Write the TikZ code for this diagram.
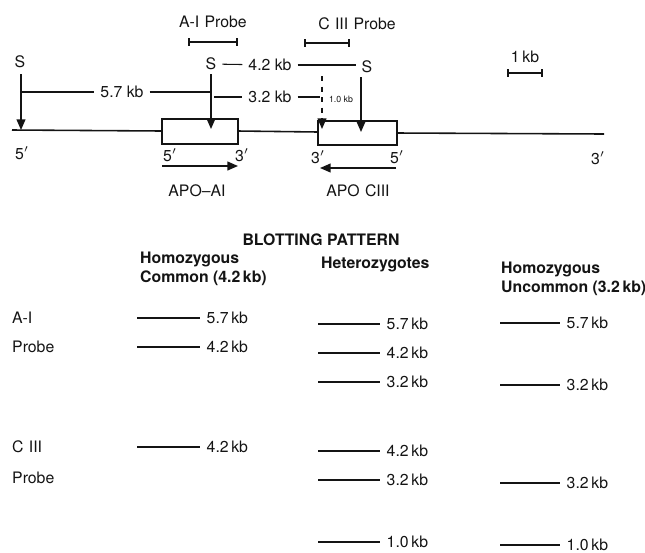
\documentclass[tikz,border=0pt]{standalone}
\usepackage{fontspec}
\setmainfont{TeX Gyre Heros}
\usetikzlibrary{arrows.meta}
\definecolor{Ink}{RGB}{20,20,20}

\begin{document}
\begin{tikzpicture}[x=0.02cm, y=-0.02cm, font=\fontsize{9}{10.5}\selectfont, Ink,
    dna/.style={line width=0.9pt},
    cut/.style={line width=0.8pt, -{Triangle[length=6pt, width=5pt]}},
    dist/.style={line width=0.6pt},
    probebar/.style={line width=1pt, {Bar[width=4pt]}-{Bar[width=4pt]}},
    band/.style={line width=1pt},
    head/.style={font=\fontsize{9}{10.5}\selectfont\bfseries, align=left, anchor=west}]
\useasboundingbox (0,0) rectangle (645,552);

% Gene map
\draw[dna] (12,130) -- (162,131);
\draw[dna] (162,119) rectangle (238,144);
\draw[dna] (238,131) -- (318,132);
\draw[dna] (318,121) rectangle (397,145);
\draw[dna] (397,133) -- (604,134);

\coordinate (c1) at (21,130);
\coordinate (c2) at (211,129);
\coordinate (c3) at (361,132);
\coordinate (c4) at (322,129);
\coordinate (d4) at (322,76);

% Sites
\node (S1) at (20,62) {S};
\node (S2) at (211,64) {S};
\node (S3) at (367,67) {S};
\draw[cut] (S1.south) ++(1,0) -- (c1);
\draw[cut] (S2) ++(0,10) -- (c2);
\draw[cut] (361,77) -- (c3);
\draw[cut, dashed] (d4) -- (c4);

% Distances
\node (k42) at (270,65) {4.2 kb};
\node (k57) at (122,92) {5.7 kb};
\node (k32) at (270,97) {3.2 kb};
\node[font=\fontsize{5}{6}\selectfont] (k10) at (341,99) {1.0 kb};
\draw[dist] (S2) -- (k42);
\draw[dist] (k42) -- (k42 -| S3.west);
\draw[dist] (21,92) -- (k57);
\draw[dist] (k57) -- (211,92);
\draw[dist] (214,97) -- (k32);
\draw[dist] (k32) -- (320,97);

% Probes and scale
\node (pA) at (213,22) {A-I\,\,Probe};
\node (pC) at (357,24) {C\,\,III\,\,Probe};
\node (kb) at (525,57) {1\,kb};
\draw[probebar] (188,42) -- (238,42);
\draw[probebar] (304,43) -- (350,43);
\draw[probebar] (507,73) -- (543,73);

% Ends and genes
\node (e1) at (22,153) {5$'$};
\node (e2) at (170,155) {5$'$};
\node (e3) at (242,155) {3$'$};
\node (e4) at (318,157) {3$'$};
\node (e5) at (397,157) {5$'$};
\node (e6) at (598,158) {3$'$};
\draw[cut] (162,166) -- (238,166);
\draw[cut] (396,168) -- (320,168);
\node (gA) at (197,191) {APO--AI};
\node (gC) at (358,191) {APO\,\,CIII};

% Blotting pattern
\node[font=\fontsize{9}{10.5}\selectfont\bfseries] (title) at (321,240) {BLOTTING PATTERN};
\node[head] (h1) at (134,269) {Homozygous\\Common (4.2\,kb)};
\node[head] (h2) at (315,264) {Heterozygotes};
\node[head] (h3) at (495,279) {Homozygous\\Uncommon (3.2\,kb)};

\node[anchor=west] (rA) at (6,318) {A-I};
\node[anchor=west] (rAp) at (6,347) {Probe};
\node[anchor=west] (rC) at (6,447) {C\,\,III};
\node[anchor=west] (rCp) at (6,478) {Probe};

% Column 1
\begin{scope}[shift={(137,0)}]
    \draw[band] (0,318) -- (63,318) node[right] {5.7\,kb};
    \draw[band] (0,347) -- (63,347) node[right] {4.2\,kb};
    \draw[band] (0,447) -- (63,447) node[right] {4.2\,kb};
\end{scope}

% Column 2
\begin{scope}[shift={(318,0)}]
    \draw[band] (0,324) -- (62,324) node[right] {5.7\,kb};
    \draw[band] (0,353) -- (62,353) node[right] {4.2\,kb};
    \draw[band] (0,382) -- (62,382) node[right] {3.2\,kb};
    \draw[band] (0,451) -- (62,451) node[right] {4.2\,kb};
    \draw[band] (0,480) -- (62,480) node[right] {3.2\,kb};
    \draw[band] (0,542) -- (62,542) node[right] {1.0\,kb};
\end{scope}

% Column 3
\begin{scope}[shift={(500,0)}]
    \draw[band] (0,323) -- (60,323) node[right] {5.7\,kb};
    \draw[band] (0,385) -- (60,385) node[right] {3.2\,kb};
    \draw[band] (0,483) -- (60,483) node[right] {3.2\,kb};
    \draw[band] (0,545) -- (60,545) node[right] {1.0\,kb};
\end{scope}

\end{tikzpicture}
\end{document}
